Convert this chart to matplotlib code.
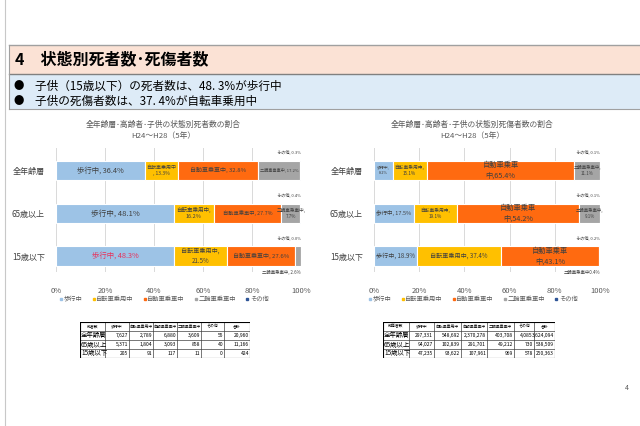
import matplotlib
matplotlib.use("Agg")
import matplotlib.pyplot as plt
from matplotlib.patches import Rectangle
from matplotlib.lines import Line2D

plt.rcParams['font.family'] = ['Noto Sans CJK JP', 'DejaVu Sans']

# ---------------- data ----------------
categories = ['全年齢層', '65歳以上', '15歳以下']
series = ['歩行中', '自転車乗用中', '自動車乗車中', '二輪車乗車中', 'その他']

death_pct = {
    '歩行中':       [36.4, 48.1, 48.3],
    '自転車乗用中': [13.3, 16.2, 21.5],
    '自動車乗車中': [32.8, 27.7, 27.6],
    '二輪車乗車中': [17.2, 7.7, 2.6],
    'その他':       [0.3, 0.4, 0.0],
}
casualty_pct = {
    '歩行中':       [8.2, 17.5, 18.9],
    '自転車乗用中': [15.1, 19.1, 37.4],
    '自動車乗車中': [65.4, 54.2, 43.1],
    '二輪車乗車中': [11.1, 9.1, 0.4],
    'その他':       [0.1, 0.1, 0.2],
}

death_counts = [
    [7627, 2789, 6880, 3609, 55, 20960],
    [5371, 1804, 3093, 858, 40, 11166],
    [205, 91, 117, 11, 0, 424],
]
casualty_counts = [
    [297331, 548692, 2370278, 403708, 4085, 3624094],
    [94027, 102839, 291701, 49212, 730, 538509],
    [47235, 93622, 107961, 969, 578, 250363],
]
table_cols = ['歩行中', '自転車乗用中', '自動車乗車中', '二輪車乗車中', 'その他', '合計']

chart_titles = ['全年齢層･高齢者･子供の状態別死者数の割合\nH24～H28（5年）',
                '全年齢層･高齢者･子供の状態別死傷者数の割合\nH24～H28（5年）']
header_title = '4　状態別死者数･死傷者数'
bullets = ['子供（15歳以下）の死者数は、48. 3%が歩行中',
           '子供の死傷者数は、37. 4%が自転車乗用中']
xticks = [0, 20, 40, 60, 80, 100]

# ---------------- style ----------------
colors = ['#9DC3E6', '#FFC000', '#FF6A10', '#A5A5A5', '#2F5597']
W, H = 640, 426
fig = plt.figure(figsize=(W / 100, H / 100), dpi=100)

def frect(x0, y0, x1, y1):
    return [x0 / W, 1 - y1 / H, (x1 - x0) / W, (y1 - y0) / H]

def fx(x):
    return x / W

def fy(y):
    return 1 - y / H

# slide border line
fig.add_artist(Line2D([fx(5), fx(5)], [0, 1], color='#C8C8C8', lw=0.8))

# header boxes
fig.add_artist(Rectangle((fx(9), fy(74)), fx(640) - fx(9), fy(45) - fy(74),
                         facecolor='#FBE2D5', edgecolor='none'))
fig.add_artist(Rectangle((fx(9), fy(109)), fx(640) - fx(9), fy(74) - fy(109),
                         facecolor='#DDEBF7', edgecolor='none'))
for yy, c, lw in [(45, '#A0A0A0', 1.0), (74, '#808080', 1.0), (109, '#A0A0A0', 0.8)]:
    fig.add_artist(Line2D([fx(9), 1], [fy(yy), fy(yy)], color=c, lw=lw))
fig.add_artist(Line2D([fx(9), fx(9)], [fy(109), fy(45)], color='#A0A0A0', lw=0.8))
fig.text(fx(15), fy(59.5), header_title, fontsize=11.5, fontweight='bold',
         va='center', ha='left', color='#000000')
for i, b in enumerate(bullets):
    y = 86 + i * 15
    fig.text(fx(13), fy(y), '●', fontsize=7.5, va='center', ha='left')
    fig.text(fx(35), fy(y), b, fontsize=8.4, va='center', ha='left')

fig.text(fx(627), fy(388), '4', fontsize=5, color='#595959', va='center', ha='center')

T = '#404040'
# label layout per (category, series): (format, fontsize, color)
left_layout = [
    [('{n}, {v}%', 5.3, T), ('{n}\n, {v}%', 3.6, T),
     ('{n}, {v}%', 4.3, T), ('{n}, {v}%', 3.0, T), ('top', 3.0, T)],
    [('{n}, {v}%', 5.5, T), ('{n},\n{v}%', 4.0, T),
     ('{n}, {v}%', 3.8, T), ('{n},\n{v}%', 3.3, T), ('top', 3.0, T)],
    [('{n}, {v}%', 5.3, '#E8305A'), ('{n},\n{v}%', 4.4, T),
     ('{n}, {v}%', 4.3, T), ('bottom', 3.2, T), ('top', 3.0, T)],
]
right_layout = [
    [('{n},\n{v}%', 2.8, T), ('{n},\n{v}%', 3.4, T),
     ('自動車乗車\n中,{v}%', 5.2, T), ('{n},\n{v}%', 3.2, T), ('top', 3.0, T)],
    [('{n}, {v}%', 4.0, T), ('{n},\n{v}%', 3.4, T),
     ('自動車乗車\n中,{v}%', 5.2, T), ('{n},\n{v}%', 3.2, T), ('top', 3.0, T)],
    [('{n}, {v}%', 4.4, T), ('{n}, {v}%', 4.4, T),
     ('自動車乗車\n中,{v}%', 5.2, T), ('bottom_nc', 3.2, T), ('top', 3.0, T)],
]

def draw_chart(rect, data, layout, title, title_x, legend_x):
    ax = fig.add_axes(rect)
    ypos = list(range(len(categories)))
    left = [0.0] * len(categories)
    for si, s in enumerate(series):
        vals = data[s]
        ax.barh(ypos, vals, left=left, height=0.45, color=colors[si],
                edgecolor='white', linewidth=0.8, zorder=3)
        for ci, v in enumerate(vals):
            fmt, fs, col = layout[ci][si]
            center = left[ci] + v / 2
            if fmt == 'top':
                ax.text(100, ci - 0.42, f'{s}, {v}%', fontsize=fs, color=col,
                        ha='right', va='center', zorder=5)
            elif fmt == 'bottom':
                ax.text(100, ci + 0.37, f'{s}, {v}%', fontsize=fs, color=col,
                        ha='right', va='center', zorder=5)
            elif fmt == 'bottom_nc':
                ax.text(100, ci + 0.37, f'{s}{v}%', fontsize=fs, color=col,
                        ha='right', va='center', zorder=5)
            else:
                ax.text(center, ci, fmt.format(n=s, v=v), fontsize=fs,
                        color=col, ha='center', va='center', zorder=5,
                        linespacing=1.35)
        left = [l + v for l, v in zip(left, vals)]
    ax.set_xlim(0, 100)
    ax.set_ylim(2.37, -0.52)
    ax.set_yticks(ypos)
    ax.set_yticklabels(categories, fontsize=5.8, color='#404040')
    ax.set_xticks(xticks)
    ax.set_xticklabels([f'{t}%' for t in xticks], fontsize=5.5, color='#595959')
    ax.tick_params(length=0, axis='y', pad=8)
    ax.tick_params(length=0, axis='x', pad=11)
    for sp in ax.spines.values():
        sp.set_visible(False)
    ax.grid(axis='x', color='#D9D9D9', lw=0.7, zorder=0)
    ax.set_axisbelow(True)
    fig.text(title_x, fy(130.5), title, fontsize=5.6, color='#595959',
             ha='center', va='center', linespacing=1.4)
    handles = [Line2D([], [], marker='s', ls='none', markersize=1.8,
                      markerfacecolor=c, markeredgecolor=c) for c in colors]
    fig.legend(handles, series, loc='center', bbox_to_anchor=(legend_x, fy(299)),
               ncol=5, frameon=False, fontsize=4.5, handletextpad=0.1,
               columnspacing=1.5, labelcolor='#595959', handlelength=0.6)
    return ax

draw_chart(frect(56, 148, 301, 272), death_pct, left_layout, chart_titles[0],
           fx(163), fx(164))
draw_chart(frect(374, 148, 600, 272), casualty_pct, right_layout, chart_titles[1],
           fx(472), fx(473))

def draw_table(x0, x1, col_edges, header0, counts):
    ax = fig.add_axes(frect(x0, 322, x1, 358))
    ax.set_xlim(x0, x1)
    ax.set_ylim(358, 322)
    ax.axis('off')
    rows = [[header0] + table_cols] + [[categories[i]] + [f'{v:,}' for v in counts[i]]
                                       for i in range(len(categories))]
    ys = [322, 331, 340, 349, 358]
    for r, row in enumerate(rows):
        for c, txt in enumerate(row):
            xa, xb = col_edges[c], col_edges[c + 1]
            ym = (ys[r] + ys[r + 1]) / 2
            if r == 0:
                ax.text((xa + xb) / 2, ym, txt, fontsize=2.8, ha='center', va='center')
            elif c == 0:
                ax.text(xa + 1, ym, txt, fontsize=4.6, ha='left', va='center')
            else:
                ax.text(xb - 1, ym, txt, fontsize=3.6, ha='right', va='center')
    for y in ys:
        ax.plot([x0, x1], [y, y], color='#404040', lw=0.5)
    for x in col_edges:
        ax.plot([x, x], [322, 358], color='#404040', lw=0.5)
    ax.plot([x0, x1], [322, 322], color='#000000', lw=0.8)
    ax.plot([x0, x1], [358, 358], color='#000000', lw=0.8)
    ax.plot([x0, x0], [322, 358], color='#000000', lw=0.8)
    ax.plot([x1, x1], [322, 358], color='#000000', lw=0.8)

draw_table(80, 250, [80, 105, 129, 153, 177, 201, 224, 250], '死者数', death_counts)
draw_table(383, 555, [383, 409, 434, 461, 487, 514, 534, 555], '死傷者数', casualty_counts)

fig.savefig('out.png', dpi=100)
